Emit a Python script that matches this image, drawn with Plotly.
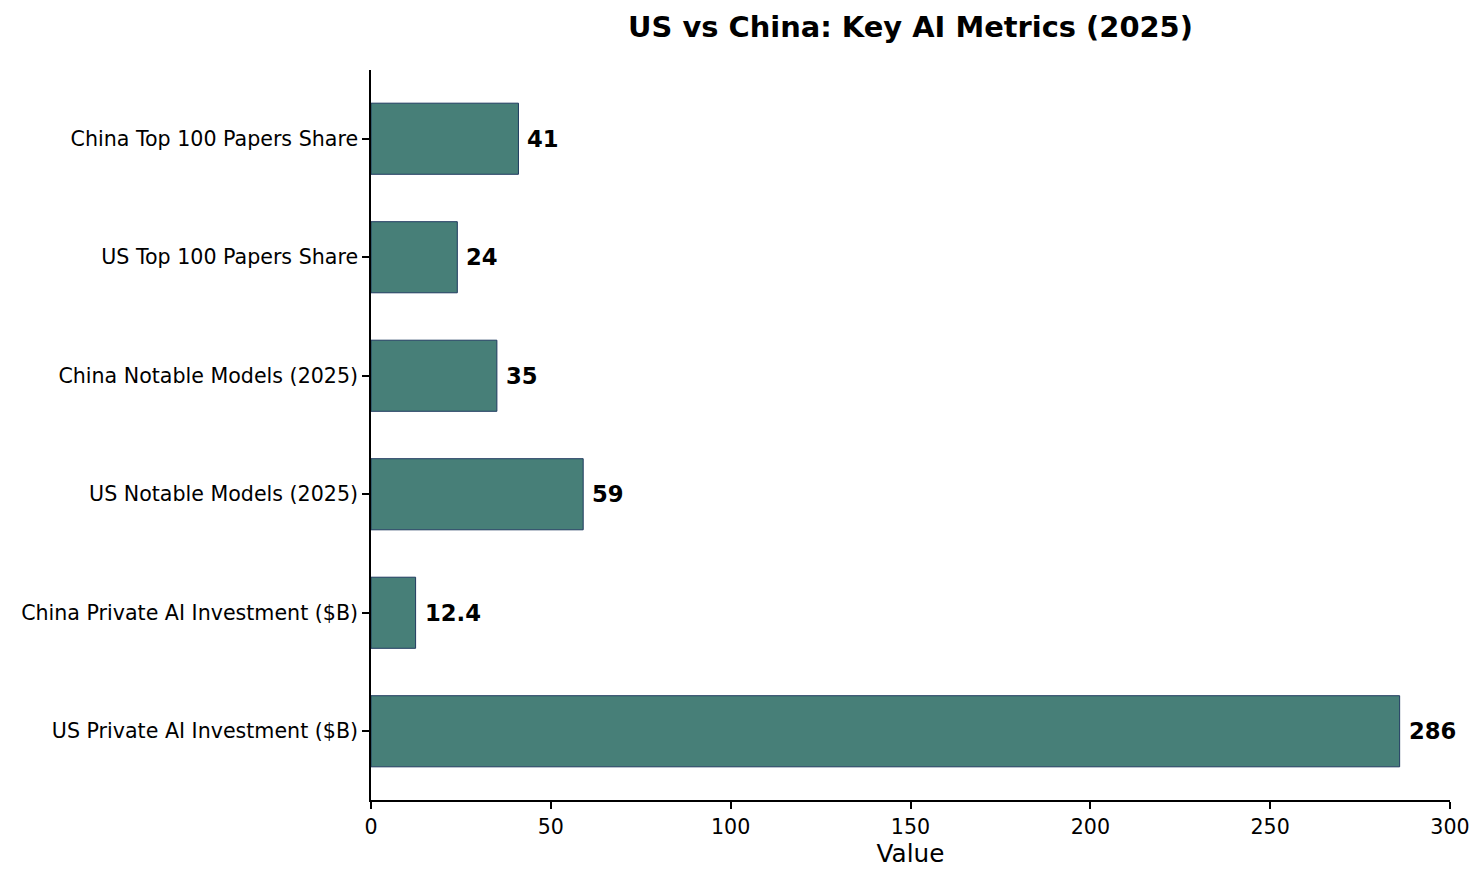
import plotly.graph_objects as go

categories = [
    "US Private AI Investment ($B)",
    "China Private AI Investment ($B)",
    "US Notable Models (2025)",
    "China Notable Models (2025)",
    "US Top 100 Papers Share",
    "China Top 100 Papers Share",
]
values = [286, 12.4, 59, 35, 24, 41]
value_labels = ["286", "12.4", "59", "35", "24", "41"]
x_ticks = [0, 50, 100, 150, 200, 250, 300]

FONT = "DejaVu Sans"

fig = go.Figure()
fig.add_trace(go.Bar(
    y=list(range(len(categories))),
    x=values,
    orientation="h",
    width=0.6,
    marker=dict(color="#477f78", line=dict(color="#1f3a5f", width=1)),
    hoverinfo="skip",
))

for i, (v, lab) in enumerate(zip(values, value_labels)):
    fig.add_annotation(
        x=v, y=i, text=f"<b>{lab}</b>", showarrow=False,
        xanchor="left", yanchor="middle", xshift=7,
        font=dict(family=FONT, size=22.7, color="black"),
    )

fig.update_layout(
    width=1484, height=884,
    margin=dict(l=371, r=34, t=70, b=84),
    plot_bgcolor="white", paper_bgcolor="white",
    showlegend=False,
    font=dict(family=FONT, size=20.6, color="black"),
    title=dict(
        text="<b>US vs China: Key AI Metrics (2025)</b>",
        x=(371 + 1450) / 2 / 1484, xanchor="center",
        y=1 - 27 / 884, yanchor="middle",
        font=dict(family=FONT, size=28.9, color="black"),
    ),
    xaxis=dict(
        range=[0, 300], tickvals=x_ticks, ticktext=[str(t) for t in x_ticks],
        showgrid=False, zeroline=False,
        showline=True, linecolor="black", linewidth=1.6,
        ticks="outside", ticklen=7, tickwidth=1.6, tickcolor="black",
        tickfont=dict(family=FONT, size=20.6),
        title=dict(text="Value", font=dict(family=FONT, size=24.7), standoff=6),
    ),
    yaxis=dict(
        range=[-0.58, 5.58],
        tickvals=list(range(len(categories))), ticktext=categories,
        showgrid=False, zeroline=False,
        showline=True, linecolor="black", linewidth=1.6,
        ticks="outside", ticklen=7, tickwidth=1.6, tickcolor="black",
        tickfont=dict(family=FONT, size=20.6),
    ),
)

fig.write_html("out.html")
